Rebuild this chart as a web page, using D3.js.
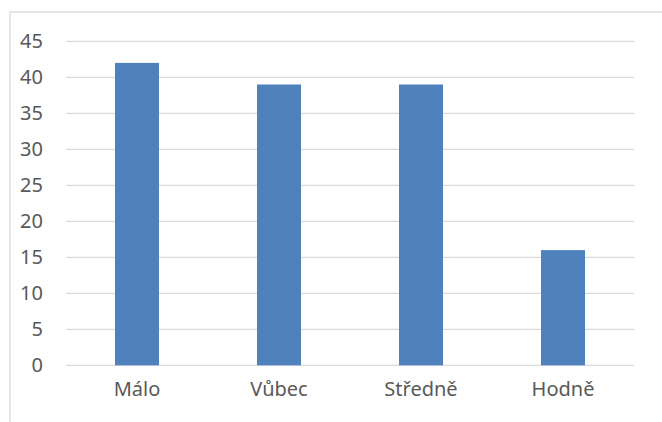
<!DOCTYPE html>
<html>
<head>
<meta charset="utf-8">
<script src="https://cdn.jsdelivr.net/npm/d3@7"></script>
<style>
  body { margin: 0; background: #fff; }
  svg { display: block; }
</style>
</head>
<body>
<div class="barChart"></div>
<script>
const categories = ["Málo", "Vůbec", "Středně", "Hodně"];
const values = [42, 39, 39, 16];
const yTicks = [0, 5, 10, 15, 20, 25, 30, 35, 40, 45];

const width = 662;
const height = 422;
const margin = { top: 41.3, right: 28, bottom: 56.7, left: 66 };

const svg = d3.select(".barChart")
    .append("svg")
        .attr("width", width)
        .attr("height", height);

// chart frame (cut off at right and bottom like the screenshot)
svg.append("rect")
    .attr("x", 10)
    .attr("y", 12)
    .attr("width", width + 20)
    .attr("height", height + 20)
    .attr("fill", "none")
    .attr("stroke", "#d9d9d9")
    .attr("stroke-width", 1.3);

const x = d3.scaleBand()
    .domain(categories)
    .range([margin.left, width - margin.right])
    .paddingInner(0.69)
    .paddingOuter(0.345);

const y = d3.scaleLinear()
    .domain([0, 45])
    .range([height - margin.bottom, margin.top]);

// gridlines
svg.append("g")
    .selectAll("line")
    .data(yTicks)
    .join("line")
        .attr("x1", margin.left)
        .attr("x2", width - margin.right)
        .attr("y1", d => y(d))
        .attr("y2", d => y(d))
        .attr("stroke", "#d9d9d9")
        .attr("stroke-width", 1.3);

// bars
svg.append("g")
    .selectAll("rect")
    .data(values)
    .join("rect")
        .attr("x", (d, i) => x(categories[i]))
        .attr("y", d => y(d))
        .attr("width", x.bandwidth())
        .attr("height", d => y(0) - y(d))
        .attr("fill", "#4f81bd");

// y axis labels
const yAxis = d3.axisLeft(y).tickValues(yTicks).tickSize(0).tickPadding(23);
svg.append("g")
    .attr("transform", `translate(${margin.left},0)`)
    .call(yAxis)
    .call(g => g.select(".domain").remove())
    .selectAll("text")
        .attr("font-family", "Noto Sans")
        .attr("font-size", 20)
        .attr("fill", "#595959");

// x axis labels
const xAxis = d3.axisBottom(x).tickSize(0).tickPadding(17);
svg.append("g")
    .attr("transform", `translate(0,${y(0)})`)
    .call(xAxis)
    .call(g => g.select(".domain").remove())
    .selectAll("text")
        .attr("font-family", "Noto Sans")
        .attr("font-size", 20)
        .attr("fill", "#595959");
</script>
</body>
</html>
